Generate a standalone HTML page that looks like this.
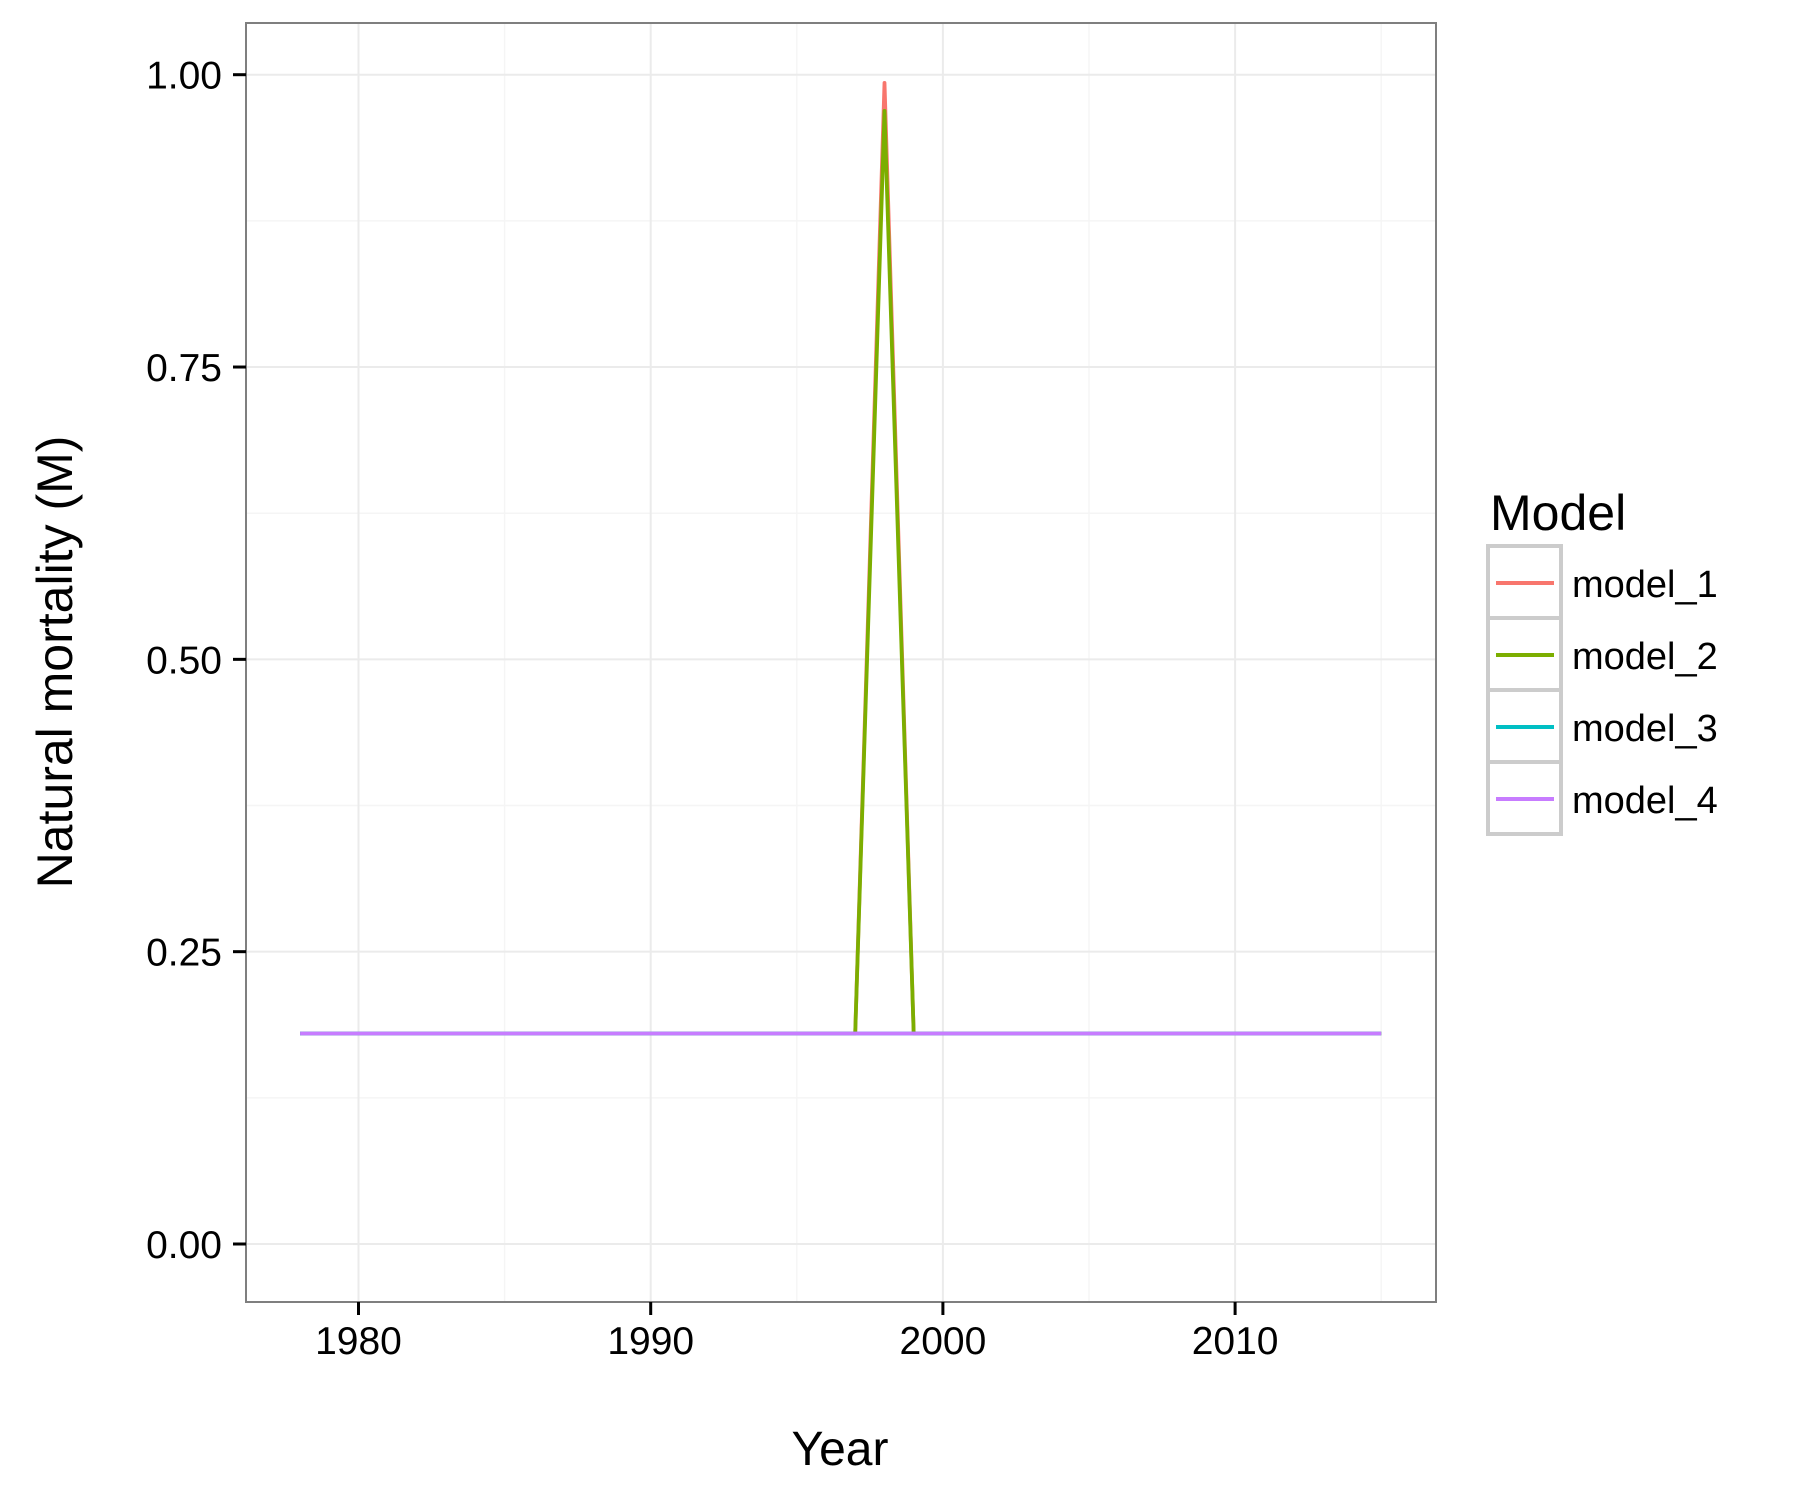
<!DOCTYPE html>
<html><head><meta charset="utf-8"><style>
html,body{margin:0;padding:0;background:#fff;}
svg{display:block;font-family:"Liberation Sans",Arial,sans-serif;}
</style></head><body>
<svg id="chart" width="1800" height="1500" viewBox="0 0 1800 1500">
<rect width="1800" height="1500" fill="#fff"/>
<g id="grid"></g>
<g id="series"></g>
<rect x="246" y="23" width="1190" height="1279" fill="none" stroke="#7f7f7f" stroke-width="2"/>
<g id="axes"></g>
<text x="840" y="1465" font-size="48" text-anchor="middle">Year</text>
<text transform="translate(72,662) rotate(-90)" font-size="50" text-anchor="middle">Natural mortality (M)</text>
<g id="legend">
<text x="1490" y="530" font-size="50">Model</text>
</g>
</svg>
<script>
const years = [];
for (let y = 1978; y <= 2015; y++) years.push(y);
const baseM = 0.18;
const spikeYear = 1998;
const model1Spike = 0.993;
const model2Spike = 0.969;
const seriesNames = ["model_1","model_2","model_3","model_4"];
const seriesColors = ["#F8766D","#7CAE00","#00BFC4","#C77CFF"];
const model1 = years.map(y => y === spikeYear ? model1Spike : baseM);
const model2 = years.map(y => y === spikeYear ? model2Spike : baseM);
const model3 = years.map(y => baseM);
const model4 = years.map(y => baseM);
const seriesValues = [model1, model2, model3, model4];
const xTicks = [1980, 1990, 2000, 2010];
const xMinor = [1985, 1995, 2005, 2015];
const yTicks = [0, 0.25, 0.5, 0.75, 1.0];
const yTickLabels = ["0.00","0.25","0.50","0.75","1.00"];
const yMinor = [0.125, 0.375, 0.625, 0.875];

const NS = "http://www.w3.org/2000/svg";
const PL = 246, PR = 1436, PT = 23, PB = 1302;
function xs(v){ return 358.5 + (v - 1980) * 29.22; }
function ys(v){ return 1244 - v * 1169.3; }
function mk(tag, attrs, parent){
  const e = document.createElementNS(NS, tag);
  for (const k in attrs) e.setAttribute(k, attrs[k]);
  parent.appendChild(e);
  return e;
}
const grid = document.getElementById('grid');
yMinor.forEach(v => {
  const l = mk('line', {x1:PL, x2:PR, y1:ys(v), y2:ys(v), stroke:'#f5f5f5', 'stroke-width':1.5}, grid);
  
  
});
xMinor.forEach(v => {
  const l = mk('line', {x1:xs(v), x2:xs(v), y1:PT, y2:PB, stroke:'#f5f5f5', 'stroke-width':1.5}, grid);
  
  
});
yTicks.forEach(v => {
  const l = mk('line', {x1:PL, x2:PR, y1:ys(v), y2:ys(v), stroke:'#ebebeb', 'stroke-width':2}, grid);
  
  
});
xTicks.forEach(v => {
  const l = mk('line', {x1:xs(v), x2:xs(v), y1:PT, y2:PB, stroke:'#ebebeb', 'stroke-width':2}, grid);
  
  
});
const sg = document.getElementById('series');
seriesValues.forEach((vals, i) => {
  const pts = years.map((y, j) => xs(y).toFixed(1) + ',' + ys(vals[j]).toFixed(1)).join(' ');
  const p = mk('polyline', {points:pts, fill:'none', stroke:seriesColors[i], 'stroke-width':3.8, 'stroke-linejoin':'round'}, sg);
  
  
});
const ax = document.getElementById('axes');
yTicks.forEach((v, i) => {
  const t = mk('line', {x1:233, x2:246, y1:ys(v), y2:ys(v), stroke:'#000', 'stroke-width':3}, ax);
  
  
  const tx = mk('text', {x:222, y:ys(v)+14, 'font-size':39, 'text-anchor':'end'}, ax);
  tx.textContent = yTickLabels[i];
  
  
});
xTicks.forEach(v => {
  const t = mk('line', {x1:xs(v), x2:xs(v), y1:1302, y2:1315, stroke:'#000', 'stroke-width':3}, ax);
  
  
  const tx = mk('text', {x:xs(v), y:1354, 'font-size':39, 'text-anchor':'middle'}, ax);
  tx.textContent = String(v);
  
  
});
const lg = document.getElementById('legend');
seriesNames.forEach((n, i) => {
  const top = 546 + i * 72;
  const r = mk('rect', {x:1488, y:top, width:73, height:72, fill:'#fff', stroke:'#cccccc', 'stroke-width':4}, lg);
  
  
  const l = mk('line', {x1:1496, x2:1554, y1:top+37, y2:top+37, stroke:seriesColors[i], 'stroke-width':4}, lg);
  
  
  const t = mk('text', {x:1572, y:top+51, 'font-size':38}, lg);
  t.textContent = n;
  
  
});
</script>
</body></html>
